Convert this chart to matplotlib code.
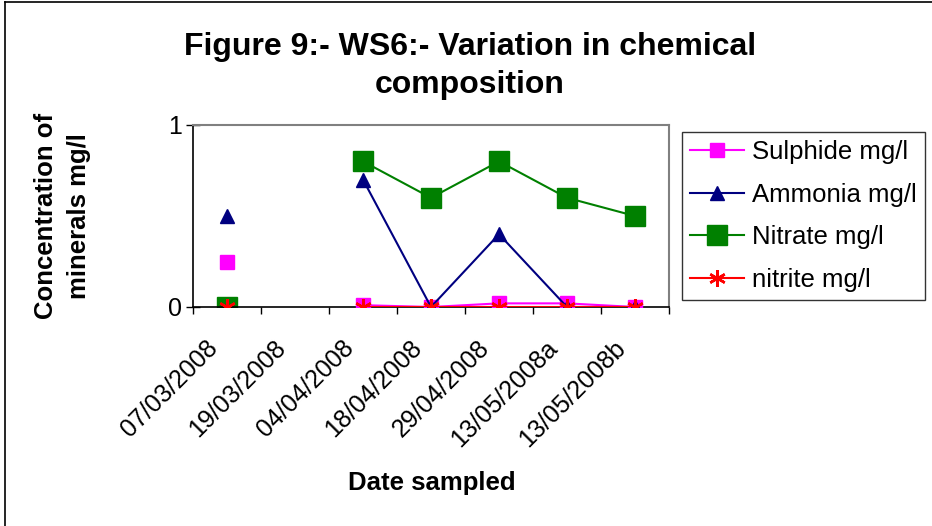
import numpy as np
import matplotlib
matplotlib.use("Agg")
import matplotlib.pyplot as plt
from matplotlib.lines import Line2D
from matplotlib.transforms import ScaledTranslation

plt.rcParams['font.family'] = ['Liberation Sans', 'DejaVu Sans']

dates = ["07/03/2008", "19/03/2008", "04/04/2008", "18/04/2008",
         "29/04/2008", "13/05/2008a", "13/05/2008b"]
sulphide = [0.25, np.nan, 0.01, 0.0, 0.02, 0.02, 0.0]
ammonia = [0.5, np.nan, 0.7, 0.0, 0.4, 0.0, 0.0]
nitrate = [0.0, np.nan, 0.8, 0.6, 0.8, 0.6, 0.5]
nitrite = [0.0, np.nan, 0.0, 0.0, 0.0, 0.0, 0.0]
series_names = ["Sulphide mg/l", "Ammonia mg/l", "Nitrate mg/l", "nitrite mg/l"]
y_ticks = [0, 1]

W, H = 932, 526
fig = plt.figure(figsize=(W / 100, H / 100), dpi=100)
ax = fig.add_axes([193 / W, (H - 307) / H, 476 / W, 182 / H])

x = np.arange(len(dates))
ax.plot(x, sulphide, color='#FF00FF', marker='s', markersize=10, lw=1.5,
        label=series_names[0], zorder=3)
ax.plot(x, ammonia, color='#000080', marker='^', markersize=10, lw=1.5,
        label=series_names[1], zorder=4)
ax.plot(x, nitrate, color='#008000', marker='s', markersize=14.5, lw=1.5,
        label=series_names[2], zorder=2)
ax.plot(x, nitrite, color='#FF0000', marker=(6, 2, 0), markersize=12, lw=1.5,
        markeredgewidth=1.8, label=series_names[3], zorder=5)

ax.set_xlim(-0.5, len(dates) - 0.5)
ax.set_ylim(0, 1)
ax.set_yticks(y_ticks)
ax.set_yticklabels([str(t) for t in y_ticks], fontsize=18)
ax.tick_params(axis='y', direction='inout', length=10, width=1, pad=3)

ax.set_xticks(np.arange(-0.5, len(dates), 1.0))
ax.set_xticklabels([])
ax.tick_params(axis='x', which='major', direction='out', length=5, width=1)
ax.set_xticks(x, minor=True)
ax.set_xticklabels(dates, minor=True, rotation=45, ha='right', va='center',
                   rotation_mode='anchor', fontsize=18)
ax.tick_params(axis='x', which='minor', length=0, pad=27)
for lab in ax.get_xticklabels(minor=True):
    lab.set_transform(lab.get_transform() + ScaledTranslation(-0.13, 0, fig.dpi_scale_trans))

for s in ['left', 'bottom']:
    ax.spines[s].set_color('black')
    ax.spines[s].set_linewidth(1.2)
for s in ['top', 'right']:
    ax.spines[s].set_color('#808080')
    ax.spines[s].set_linewidth(1.5)

leg = fig.legend(loc='upper left', bbox_to_anchor=(682 / W, 1 - 132 / H),
                 fontsize=18.5, frameon=True, fancybox=False, handlelength=2.1,
                 handletextpad=0.3, labelspacing=0.72, borderpad=0.33,
                 borderaxespad=0, edgecolor='black')
leg.get_frame().set_linewidth(1.0)

fig.text(470 / W, 1 - 66 / H, "Figure 9:- WS6:- Variation in chemical\ncomposition",
         ha='center', va='center', fontsize=23, fontweight='bold', linespacing=1.38)
fig.text(62.5 / W, 1 - 216 / H, "Concentration of\nminerals mg/l", rotation=90,
         ha='center', va='center', fontsize=18.5, fontweight='bold',
         multialignment='center', linespacing=1.5)
fig.text(432 / W, 1 - 483 / H, "Date sampled", ha='center', va='center',
         fontsize=18.5, fontweight='bold')

fig.add_artist(Line2D([5 / W, 5 / W], [0, 1 - 2 / H], transform=fig.transFigure,
                      color='black', lw=1.2))
fig.add_artist(Line2D([5 / W, 1], [1 - 2 / H, 1 - 2 / H], transform=fig.transFigure,
                      color='black', lw=1.2))

fig.savefig("out.png", dpi=100)
